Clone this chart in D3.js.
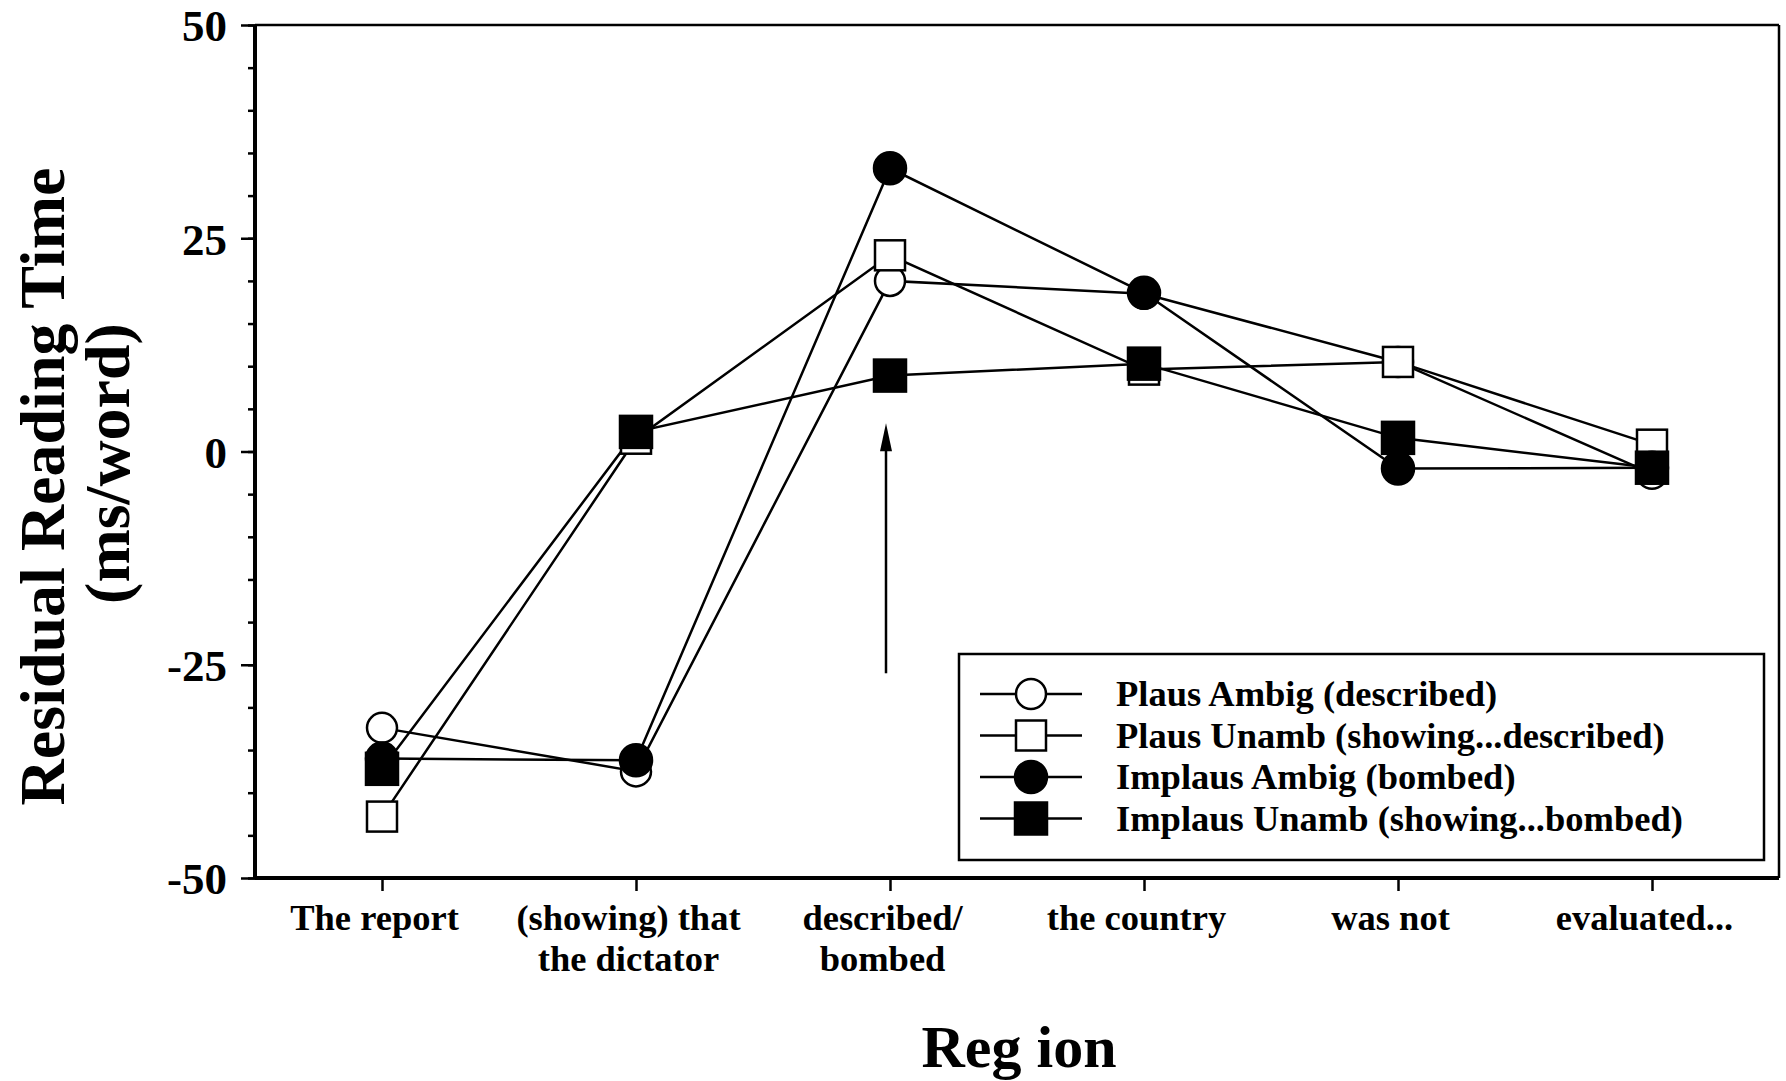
<!DOCTYPE html>
<html>
<head>
<meta charset="utf-8">
<script src="https://cdn.jsdelivr.net/npm/d3@7"></script>
<style>
  body { margin: 0; background: #fff; }
  svg { display: block; }
  text { font-family: "Liberation Serif", "Times New Roman", serif; font-weight: bold; fill: #000; }
  .axis path, .axis line { stroke: #000; }
  .series { fill: none; stroke: #000; stroke-width: 2.5; }
</style>
</head>
<body>
<svg id="chart"></svg>
<script>
// regions on the x axis (one entry per line of the label)
var regions = [
  ["The report"],
  ["(showing) that", "the dictator"],
  ["described/", "bombed"],
  ["the country"],
  ["was not"],
  ["evaluated..."]
];

// residual reading times (ms/word)
var plausAmbig   = [-32.4, -37.5, 20.0, 18.5, 10.5, -2.6];
var plausUnamb   = [-42.8,   1.5, 23.0,  9.6, 10.5,  0.8];
var implausAmbig = [-36.0, -36.2, 33.2, 18.6, -2.0, -1.9];
var implausUnamb = [-37.2,   2.3,  8.9, 10.3,  1.6, -1.9];

var seriesNames = [
  "Plaus Ambig (described)",
  "Plaus Unamb (showing...described)",
  "Implaus Ambig (bombed)",
  "Implaus Unamb (showing...bombed)"
];
var seriesShapes = ["circle", "square", "circle", "square"];
var seriesFilled = [false, false, true, true];

var yMajorTicks = [-50, -25, 0, 25, 50];
var yMinorTicks = d3.range(-50, 51, 5);

// arrow pointing at the critical region: from, to (y values)
var arrowRange = [-26, 3.3];

var svgWidth = 1786,
    svgHeight = 1081;
var margin = {top: 25, right: 7, bottom: 203, left: 255};
var width = svgWidth - margin.left - margin.right,
    height = svgHeight - margin.top - margin.bottom;

var svg = d3.select("#chart")
    .attr("width", svgWidth)
    .attr("height", svgHeight);

var g = svg.append("g")
    .attr("transform", "translate(" + margin.left + "," + margin.top + ")");

var x = d3.scaleLinear().domain([-0.5, regions.length - 0.5]).range([0, width]);
var y = d3.scaleLinear().domain([-50, 50]).range([height, 0]);

// frame (top and right)
g.append("line").attr("x1", 0).attr("x2", width).attr("y1", 0).attr("y2", 0)
    .attr("stroke", "#000").attr("stroke-width", 2.5);
g.append("line").attr("x1", width).attr("x2", width).attr("y1", 0).attr("y2", height)
    .attr("stroke", "#000").attr("stroke-width", 2.5);

// minor y ticks
g.append("g")
    .attr("class", "axis")
    .call(d3.axisLeft(y).tickValues(yMinorTicks).tickSize(7).tickFormat(""))
    .call(function(s){ s.select(".domain").remove(); })
    .selectAll("line").attr("stroke-width", 2.5);

// major y ticks + labels (plain hyphen for negatives, as in the original)
var gY = g.append("g")
    .attr("class", "axis")
    .call(d3.axisLeft(y).tickValues(yMajorTicks).tickSize(14).tickPadding(14)
      .tickFormat(function(d){ return String(d); }));
gY.select(".domain").attr("stroke-width", 4).attr("d", "M0," + height + "V0");
gY.selectAll("line").attr("stroke-width", 2.5);
gY.selectAll("text").style("font-size", "45px").attr("dy", "0.35em");

// x axis
var gX = g.append("g")
    .attr("class", "axis")
    .attr("transform", "translate(0," + height + ")")
    .call(d3.axisBottom(x).tickValues(d3.range(regions.length)).tickSize(13).tickFormat(""));
gX.select(".domain").attr("stroke-width", 4).attr("d", "M0,0H" + width);
gX.selectAll("line").attr("stroke-width", 2.5);
gX.selectAll(".tick").each(function(d) {
  var t = d3.select(this).append("text")
      .attr("text-anchor", "middle")
      .style("font-size", "36.5px");
  regions[d].forEach(function(line, i) {
    t.append("tspan").attr("x", -8).attr("y", 52 + i * 41).text(line);
  });
});

// axis titles
svg.append("text")
    .attr("transform", "translate(64," + (margin.top + height / 2 + 35) + ") rotate(-90)")
    .attr("text-anchor", "middle")
    .style("font-size", "64px")
    .text("Residual Reading Time");
svg.append("text")
    .attr("transform", "translate(129," + (margin.top + height / 2 + 12) + ") rotate(-90)")
    .attr("text-anchor", "middle")
    .style("font-size", "64px")
    .text("(ms/word)");
svg.append("text")
    .attr("x", 1019)
    .attr("y", 1067)
    .attr("text-anchor", "middle")
    .style("font-size", "60px")
    .text("Reg ion");

// arrow
var ax = x(2) - 4;
g.append("line")
    .attr("x1", ax).attr("x2", ax)
    .attr("y1", y(arrowRange[0])).attr("y2", y(arrowRange[1]) + 20)
    .attr("stroke", "#000").attr("stroke-width", 2.5);
g.append("path")
    .attr("d", "M" + ax + "," + y(arrowRange[1]) + "L" + (ax - 6) + "," + (y(arrowRange[1]) + 28) + "L" + (ax + 6) + "," + (y(arrowRange[1]) + 28) + "Z")
    .attr("fill", "#000");

// series
var allSeries = [plausAmbig, plausUnamb, implausAmbig, implausUnamb];
var line = d3.line()
    .x(function(d, i) { return x(i); })
    .y(function(d) { return y(d); });

function drawMarker(sel, shape, filled, cx, cy) {
  if (shape === "circle") {
    sel.append("circle")
        .attr("cx", cx).attr("cy", cy).attr("r", filled ? 16 : 15)
        .attr("fill", filled ? "#000" : "#fff")
        .attr("stroke", "#000").attr("stroke-width", 2.5);
  } else {
    var s = filled ? 32 : 30;
    sel.append("rect")
        .attr("x", cx - s / 2).attr("y", cy - s / 2)
        .attr("width", s).attr("height", s)
        .attr("fill", filled ? "#000" : "#fff")
        .attr("stroke", "#000").attr("stroke-width", 2.5);
  }
}

allSeries.forEach(function(vals) {
  g.append("path").datum(vals).attr("class", "series").attr("d", line);
});
allSeries.forEach(function(vals, k) {
  var mg = g.append("g");
  vals.forEach(function(v, i) {
    drawMarker(mg, seriesShapes[k], seriesFilled[k], x(i), y(v));
  });
});

// legend
var lgX = 959 - margin.left, lgY = 654 - margin.top;
var legend = g.append("g").attr("transform", "translate(" + lgX + "," + lgY + ")");
legend.append("rect")
    .attr("width", 805).attr("height", 206)
    .attr("fill", "#fff").attr("stroke", "#000").attr("stroke-width", 2.5);
seriesNames.forEach(function(name, k) {
  var ry = 40 + k * 41.5;
  legend.append("line")
      .attr("x1", 21).attr("x2", 123).attr("y1", ry).attr("y2", ry)
      .attr("stroke", "#000").attr("stroke-width", 2.5);
  drawMarker(legend, seriesShapes[k], seriesFilled[k], 72, ry);
  legend.append("text")
      .attr("x", 157).attr("y", ry).attr("dy", "0.33em")
      .style("font-size", "36.5px")
      .text(name);
});
</script>
</body>
</html>
